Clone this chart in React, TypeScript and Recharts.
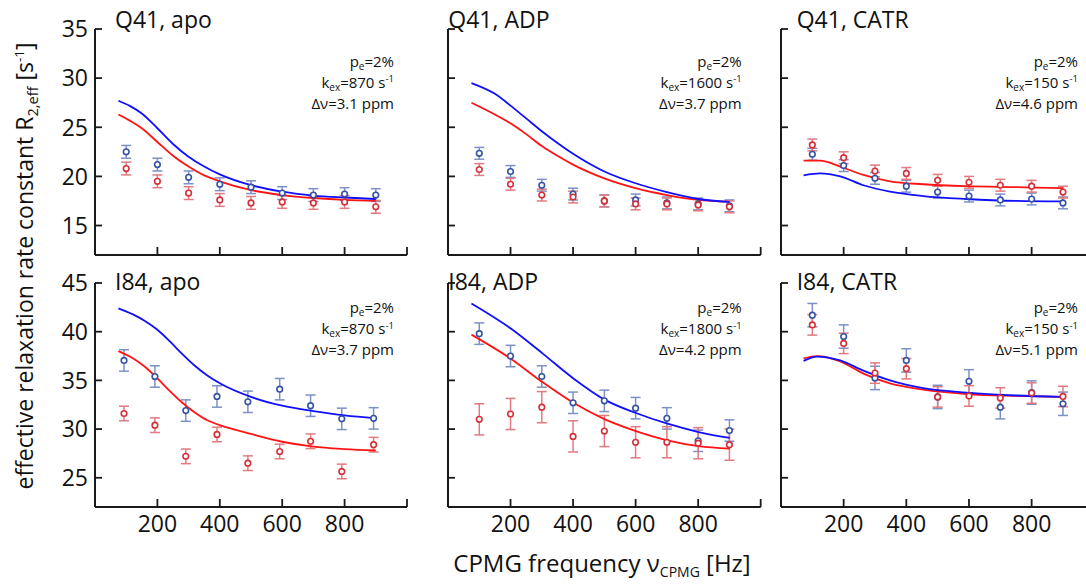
import React from 'react';
import { ComposedChart, Scatter, Line, XAxis, YAxis, ErrorBar } from 'recharts';

// ---------- data ----------
const NU = [100, 200, 300, 400, 500, 600, 700, 800, 900];
const NU_I84_APO = [93, 192, 291, 391, 490, 592, 691, 791, 893];

const X_TICKS = [200, 400, 600, 800, 1000];
const X_TICK_LABELS = ['200', '400', '600', '800', ''];
const Y_TICKS_Q41 = [15, 20, 25, 30, 35];
const Y_TICKS_I84 = [25, 30, 35, 40, 45];
const Y_DOMAIN_Q41 = [12, 35];
const Y_DOMAIN_I84 = [22, 45];

const PANEL_TITLES = ['Q41, apo', 'Q41, ADP', 'Q41, CATR', 'I84, apo', 'I84, ADP', 'I84, CATR'];
const PANEL_KEX = ['870', '1600', '150', '870', '1800', '150'];
const PANEL_DNU = ['3.1', '3.7', '4.6', '3.7', '4.2', '5.1'];
const PANEL_PE = ['2%', '2%', '2%', '2%', '2%', '2%'];

// Q41 apo
const Q41_APO_BLUE = [22.5, 21.2, 19.9, 19.2, 18.9, 18.3, 18.1, 18.2, 18.1];
const Q41_APO_BLUE_ERR = [0.65, 0.65, 0.65, 0.65, 0.65, 0.65, 0.65, 0.65, 0.65];
const Q41_APO_RED = [20.8, 19.5, 18.3, 17.6, 17.3, 17.4, 17.3, 17.4, 16.9];
const Q41_APO_RED_ERR = [0.65, 0.65, 0.65, 0.65, 0.65, 0.65, 0.65, 0.65, 0.65];
const Q41_APO_BLUE_FIT_X = [75, 110, 150, 200, 250, 300, 350, 400, 500, 600, 700, 800, 900];
const Q41_APO_BLUE_FIT_Y = [27.7, 27.2, 26.4, 24.9, 23.3, 22.0, 21.0, 20.2, 19.1, 18.45, 18.05, 17.85, 17.7];
const Q41_APO_RED_FIT_X = [75, 110, 150, 200, 250, 300, 350, 400, 500, 600, 700, 800, 900];
const Q41_APO_RED_FIT_Y = [26.3, 25.7, 24.9, 23.5, 22.1, 21.0, 20.1, 19.5, 18.6, 18.1, 17.8, 17.6, 17.5];

// Q41 ADP
const Q41_ADP_BLUE = [22.35, 20.5, 19.1, 18.2, 17.5, 17.6, 17.3, 17.2, 17.0];
const Q41_ADP_BLUE_ERR = [0.6, 0.6, 0.6, 0.6, 0.6, 0.6, 0.6, 0.6, 0.6];
const Q41_ADP_RED = [20.7, 19.2, 18.1, 17.9, 17.5, 17.2, 17.2, 17.1, 16.9];
const Q41_ADP_RED_ERR = [0.6, 0.6, 0.6, 0.6, 0.6, 0.6, 0.6, 0.6, 0.6];
const Q41_ADP_BLUE_FIT_X = [75, 150, 200, 250, 300, 350, 400, 500, 600, 700, 800, 900];
const Q41_ADP_BLUE_FIT_Y = [29.5, 28.4, 27.2, 25.9, 24.6, 23.4, 22.3, 20.5, 19.3, 18.4, 17.7, 17.4];
const Q41_ADP_RED_FIT_X = [75, 150, 200, 250, 300, 350, 400, 500, 600, 700, 800, 900];
const Q41_ADP_RED_FIT_Y = [27.5, 26.3, 25.4, 24.3, 23.1, 22.1, 21.2, 19.8, 18.8, 18.1, 17.6, 17.4];

// Q41 CATR
const Q41_CATR_BLUE = [22.25, 21.1, 19.8, 19.0, 18.4, 18.0, 17.6, 17.7, 17.3];
const Q41_CATR_BLUE_ERR = [0.6, 0.6, 0.6, 0.6, 0.6, 0.6, 0.6, 0.6, 0.6];
const Q41_CATR_RED = [23.2, 21.9, 20.55, 20.3, 19.6, 19.4, 19.1, 19.0, 18.4];
const Q41_CATR_RED_ERR = [0.6, 0.6, 0.6, 0.6, 0.6, 0.6, 0.6, 0.6, 0.6];
const Q41_CATR_BLUE_FIT_X = [72, 125, 189, 263, 348, 454, 592, 751, 900];
const Q41_CATR_BLUE_FIT_Y = [20.1, 20.3, 20.0, 19.1, 18.45, 18.0, 17.7, 17.5, 17.45];
const Q41_CATR_RED_FIT_X = [72, 125, 189, 263, 348, 454, 592, 751, 900];
const Q41_CATR_RED_FIT_Y = [21.6, 21.6, 21.0, 20.15, 19.5, 19.2, 19.0, 18.9, 18.8];

// I84 apo
const I84_APO_BLUE = [37.05, 35.4, 31.9, 33.35, 32.8, 34.1, 32.4, 31.05, 31.1];
const I84_APO_BLUE_ERR = [1.1, 1.1, 1.1, 1.1, 1.1, 1.1, 1.1, 1.1, 1.1];
const I84_APO_RED = [31.6, 30.4, 27.2, 29.45, 26.5, 27.7, 28.75, 25.65, 28.4];
const I84_APO_RED_ERR = [0.75, 0.75, 0.75, 0.75, 0.75, 0.75, 0.75, 0.75, 0.75];
const I84_APO_BLUE_FIT_X = [75, 120, 160, 200, 240, 280, 320, 360, 400, 500, 600, 700, 800, 900];
const I84_APO_BLUE_FIT_Y = [42.4, 41.8, 41.1, 40.2, 39.0, 37.7, 36.5, 35.5, 34.7, 33.3, 32.4, 31.85, 31.4, 31.1];
const I84_APO_RED_FIT_X = [75, 120, 160, 200, 240, 280, 320, 360, 400, 500, 600, 700, 800, 900];
const I84_APO_RED_FIT_Y = [38.0, 37.3, 36.4, 35.2, 33.9, 32.7, 31.7, 30.9, 30.4, 29.5, 28.7, 28.2, 27.95, 27.8];

// I84 ADP
const I84_ADP_BLUE = [39.8, 37.5, 35.4, 32.7, 32.9, 32.15, 31.1, 28.8, 29.85];
const I84_ADP_BLUE_ERR = [1.1, 1.1, 1.1, 1.1, 1.1, 1.1, 1.1, 1.1, 1.1];
const I84_ADP_RED = [31.0, 31.55, 32.25, 29.25, 29.8, 28.65, 28.65, 28.55, 28.4];
const I84_ADP_RED_ERR = [1.6, 1.6, 1.6, 1.6, 1.6, 1.6, 1.6, 1.6, 1.6];
const I84_ADP_BLUE_FIT_X = [75, 202, 303, 401, 502, 601, 702, 801, 901];
const I84_ADP_BLUE_FIT_Y = [42.9, 40.3, 37.75, 35.2, 33.0, 31.65, 30.55, 29.7, 29.1];
const I84_ADP_RED_FIT_X = [75, 202, 303, 401, 502, 601, 702, 801, 901];
const I84_ADP_RED_FIT_Y = [39.7, 37.2, 34.8, 32.7, 31.0, 29.8, 28.85, 28.25, 28.0];

// I84 CATR
const I84_CATR_BLUE = [41.7, 39.5, 35.25, 37.05, 33.3, 34.9, 32.25, 33.75, 32.6];
const I84_CATR_BLUE_ERR = [1.2, 1.2, 1.2, 1.2, 1.2, 1.2, 1.2, 1.2, 1.2];
const I84_CATR_RED = [40.7, 38.8, 35.75, 36.2, 33.3, 33.4, 33.2, 33.7, 33.35];
const I84_CATR_RED_ERR = [1.05, 1.05, 1.05, 1.05, 1.05, 1.05, 1.05, 1.05, 1.05];
const I84_CATR_BLUE_FIT_X = [72, 115, 189, 263, 348, 454, 592, 751, 895];
const I84_CATR_BLUE_FIT_Y = [37.0, 37.45, 37.05, 36.0, 35.0, 34.2, 33.75, 33.45, 33.3];
const I84_CATR_RED_FIT_X = [72, 115, 189, 263, 348, 454, 592, 751, 895];
const I84_CATR_RED_FIT_Y = [37.25, 37.5, 36.95, 35.7, 34.7, 34.05, 33.6, 33.4, 33.3];

// ---------- helpers ----------
const pts = (xs: number[], ys: number[], es: number[]) => xs.map((x, i) => ({ x, y: ys[i], e: es[i] }));
const crv = (xs: number[], ys: number[]) => xs.map((x, i) => ({ x, y: ys[i] }));

const FONT = '"Open Sans", sans-serif';
const AXIS = '#1a1a1a';
const BLUE_PT = '#3453a3';
const BLUE_ERR = '#7c91c6';
const RED_PT = '#d5303a';
const RED_ERR = '#e27a80';
const BLUE_LINE = '#1010ff';
const RED_LINE = '#ff1414';

const PANELS = [
  { row: 0, col: 0, title: 0, yDomain: Y_DOMAIN_Q41, yTicks: Y_TICKS_Q41, yLabels: true, xLabels: false,
    blue: pts(NU, Q41_APO_BLUE, Q41_APO_BLUE_ERR), red: pts(NU, Q41_APO_RED, Q41_APO_RED_ERR),
    blueFit: crv(Q41_APO_BLUE_FIT_X, Q41_APO_BLUE_FIT_Y), redFit: crv(Q41_APO_RED_FIT_X, Q41_APO_RED_FIT_Y) },
  { row: 0, col: 1, title: 1, yDomain: Y_DOMAIN_Q41, yTicks: Y_TICKS_Q41, yLabels: false, xLabels: false,
    blue: pts(NU, Q41_ADP_BLUE, Q41_ADP_BLUE_ERR), red: pts(NU, Q41_ADP_RED, Q41_ADP_RED_ERR),
    blueFit: crv(Q41_ADP_BLUE_FIT_X, Q41_ADP_BLUE_FIT_Y), redFit: crv(Q41_ADP_RED_FIT_X, Q41_ADP_RED_FIT_Y) },
  { row: 0, col: 2, title: 2, yDomain: Y_DOMAIN_Q41, yTicks: Y_TICKS_Q41, yLabels: false, xLabels: false,
    blue: pts(NU, Q41_CATR_BLUE, Q41_CATR_BLUE_ERR), red: pts(NU, Q41_CATR_RED, Q41_CATR_RED_ERR),
    blueFit: crv(Q41_CATR_BLUE_FIT_X, Q41_CATR_BLUE_FIT_Y), redFit: crv(Q41_CATR_RED_FIT_X, Q41_CATR_RED_FIT_Y) },
  { row: 1, col: 0, title: 3, yDomain: Y_DOMAIN_I84, yTicks: Y_TICKS_I84, yLabels: true, xLabels: true,
    blue: pts(NU_I84_APO, I84_APO_BLUE, I84_APO_BLUE_ERR), red: pts(NU_I84_APO, I84_APO_RED, I84_APO_RED_ERR),
    blueFit: crv(I84_APO_BLUE_FIT_X, I84_APO_BLUE_FIT_Y), redFit: crv(I84_APO_RED_FIT_X, I84_APO_RED_FIT_Y) },
  { row: 1, col: 1, title: 4, yDomain: Y_DOMAIN_I84, yTicks: Y_TICKS_I84, yLabels: false, xLabels: true,
    blue: pts(NU, I84_ADP_BLUE, I84_ADP_BLUE_ERR), red: pts(NU, I84_ADP_RED, I84_ADP_RED_ERR),
    blueFit: crv(I84_ADP_BLUE_FIT_X, I84_ADP_BLUE_FIT_Y), redFit: crv(I84_ADP_RED_FIT_X, I84_ADP_RED_FIT_Y) },
  { row: 1, col: 2, title: 5, yDomain: Y_DOMAIN_I84, yTicks: Y_TICKS_I84, yLabels: false, xLabels: true,
    blue: pts(NU, I84_CATR_BLUE, I84_CATR_BLUE_ERR), red: pts(NU, I84_CATR_RED, I84_CATR_RED_ERR),
    blueFit: crv(I84_CATR_BLUE_FIT_X, I84_CATR_BLUE_FIT_Y), redFit: crv(I84_CATR_RED_FIT_X, I84_CATR_RED_FIT_Y) },
];

// layout
const COL_L = [95, 448.3, 780.7];
const COL_R = [407, 761, 1094];
const ROW_T = [29, 282.7];
const ROW_B = [255, 506.7];
const ML = 55, MR = 10, MT = 22, MB = 40;
const AX_W = 2; // y-axis width / x-axis height reserved inside the margins
const TITLE_DX = [20, 0, 16];
const ANN_R = [394, 741.7, 1078];
const ANN_BASE = [66.5, 313];
const TITLE_BASE = [28.3, 290];

const makeYTick = (showLabel: boolean) => (props: any) => {
  const { x, y, payload } = props;
  return (
    <g>
      <line x1={x} x2={x + 7} y1={y} y2={y} stroke={AXIS} strokeWidth={1.8} />
      {showLabel && (
        <text x={x - 7} y={y} dy="0.36em" textAnchor="end" fontSize={23} fill="#111" fontFamily={FONT}>
          {payload.value}
        </text>
      )}
    </g>
  );
};

const makeXTick = (showLabel: boolean) => (props: any) => {
  const { x, y, payload } = props;
  const idx = X_TICKS.indexOf(payload.value);
  return (
    <g>
      <line x1={x} x2={x} y1={y} y2={y - 8} stroke={AXIS} strokeWidth={1.8} />
      {showLabel && (
        <text x={x} y={y + 25} textAnchor="middle" fontSize={23} fill="#111" fontFamily={FONT}>
          {X_TICK_LABELS[idx]}
        </text>
      )}
    </g>
  );
};

const Dot = (color: string) => (p: any) =>
  p.cx == null ? <g /> : <circle cx={p.cx} cy={p.cy} r={2.8} fill="#fff" stroke={color} strokeWidth={1.6} />;

function Panel({ cfg }: { cfg: any }) {
  const L = COL_L[cfg.col], R = COL_R[cfg.col], T = ROW_T[cfg.row], B = ROW_B[cfg.row];
  const w = R - L + ML + MR;
  const h = B - T + MT + MB;
  return (
    <div style={{ position: 'absolute', left: L - ML, top: T - MT, width: w, height: h }}>
      <ComposedChart
        width={w}
        height={h}
        margin={{ left: ML - AX_W, right: MR, top: MT, bottom: MB - AX_W }}
        style={{ overflow: 'visible' }}
      >
        <XAxis
          type="number"
          dataKey="x"
          domain={[0, 1000]}
          ticks={X_TICKS}
          interval={0}
          height={AX_W}
          tickSize={0}
          tickMargin={0}
          axisLine={{ stroke: AXIS, strokeWidth: 2 }}
          tickLine={false}
          tick={makeXTick(cfg.xLabels)}
          allowDataOverflow
        />
        <YAxis
          type="number"
          dataKey="y"
          domain={cfg.yDomain}
          ticks={cfg.yTicks}
          interval={0}
          width={AX_W}
          tickSize={0}
          tickMargin={0}
          axisLine={{ stroke: AXIS, strokeWidth: 2 }}
          tickLine={false}
          tick={makeYTick(cfg.yLabels)}
          allowDataOverflow
        />
        <Scatter data={cfg.blue} dataKey="y" isAnimationActive={false} shape={Dot(BLUE_PT)}>
          <ErrorBar dataKey="e" direction="y" width={5} stroke={BLUE_ERR} strokeWidth={1.5} isAnimationActive={false} />
        </Scatter>
        <Scatter data={cfg.red} dataKey="y" isAnimationActive={false} shape={Dot(RED_PT)}>
          <ErrorBar dataKey="e" direction="y" width={5} stroke={RED_ERR} strokeWidth={1.5} isAnimationActive={false} />
        </Scatter>
        <Line data={cfg.redFit} dataKey="y" type="monotone" stroke={RED_LINE} strokeWidth={1.8} dot={false} activeDot={false} isAnimationActive={false} />
        <Line data={cfg.blueFit} dataKey="y" type="monotone" stroke={BLUE_LINE} strokeWidth={1.8} dot={false} activeDot={false} isAnimationActive={false} />
      </ComposedChart>
    </div>
  );
}

function Overlay() {
  return (
    <svg width={1086} height={585} style={{ position: 'absolute', left: 0, top: 0, pointerEvents: 'none' }} fontFamily={FONT}>
      {PANELS.map((cfg, i) => {
        const L = COL_L[cfg.col];
        const ar = ANN_R[cfg.col];
        const ab = ANN_BASE[cfg.row];
        return (
          <g key={i}>
            <text x={L + TITLE_DX[cfg.col]} y={TITLE_BASE[cfg.row]} fontSize={23} fill="#111">
              {PANEL_TITLES[cfg.title]}
            </text>
            <text x={ar} y={ab} textAnchor="end" fontSize={15} fill="#111">
              p<tspan fontSize={10} dy={3}>e</tspan>
              <tspan dy={-3}>={PANEL_PE[i]}</tspan>
            </text>
            <text x={ar} y={ab + 21} textAnchor="end" fontSize={15} fill="#111">
              k<tspan fontSize={10} dy={3}>ex</tspan>
              <tspan dy={-3}>={PANEL_KEX[i]} s</tspan>
              <tspan fontSize={9.5} dy={-5.5}>-1</tspan>
            </text>
            <text x={ar} y={ab + 42} textAnchor="end" fontSize={15} fill="#111">
              {'\u0394\u03bd=' + PANEL_DNU[i] + ' ppm'}
            </text>
          </g>
        );
      })}
      <text transform="translate(33,266) rotate(-90)" textAnchor="middle" fontSize={23} fill="#111">
        effective relaxation rate constant R<tspan fontSize={14.5} dy={5}>2,eff</tspan>
        <tspan dy={-5}> [s</tspan>
        <tspan fontSize={13.5} dy={-9}>-1</tspan>
        <tspan dy={9}>]</tspan>
      </text>
      <text x={602} y={571.5} textAnchor="middle" fontSize={24} fill="#111">
        CPMG frequency {'\u03bd'}
        <tspan fontSize={14} dy={5}>CPMG</tspan>
        <tspan dy={-5}> [Hz]</tspan>
      </text>
    </svg>
  );
}

export default function App() {
  return (
    <div style={{ position: 'absolute', left: 0, top: 0, width: 1086, height: 585, overflow: 'hidden', background: '#fff', fontFamily: FONT }}>
      {PANELS.map((cfg, i) => (
        <Panel key={i} cfg={cfg} />
      ))}
      <Overlay />
    </div>
  );
}
